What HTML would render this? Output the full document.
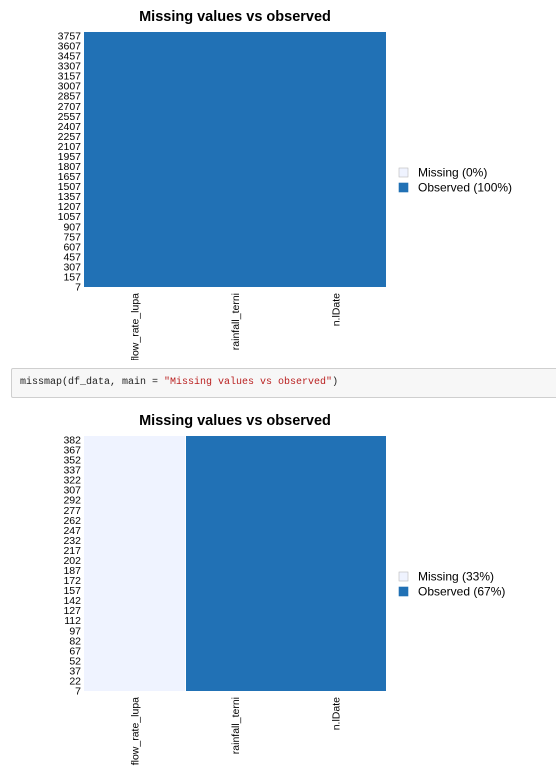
<!DOCTYPE html>
<html><head><meta charset="utf-8">
<style>
body{margin:0;background:#fff;width:556px;height:766px;overflow:hidden;font-family:"Liberation Sans",Arial,sans-serif;}
svg{position:absolute;left:0;}
#code{position:absolute;left:11px;top:368px;width:550px;height:30px;background:#f7f7f7;border:1px solid #cfcfcf;border-radius:2px;box-sizing:border-box;font-family:"Liberation Mono",monospace;font-size:10px;line-height:28px;padding-left:8px;color:#222;}
#code .s{color:#ba2121;}
</style></head><body>
<svg id="c1" style="top:0" width="556" height="360"></svg>
<div id="code">missmap(df_data, main = <span class="s">"Missing values vs observed"</span>)</div>
<svg id="c2" style="top:404px" width="556" height="362"></svg>
<script>
const columns = ["flow_rate_lupa","rainfall_terni","n.lDate"];
const missing1 = [0,0,0];
const missing2 = [1,0,0];
const ticks1 = [3757,3607,3457,3307,3157,3007,2857,2707,2557,2407,2257,2107,1957,1807,1657,1507,1357,1207,1057,907,757,607,457,307,157,7];
const ticks2 = [382,367,352,337,322,307,292,277,262,247,232,217,202,187,172,157,142,127,112,97,82,67,52,37,22,7];
const legend1 = ["Missing (0%)","Observed (100%)"];
const legend2 = ["Missing (33%)","Observed (67%)"];
const NS="http://www.w3.org/2000/svg";
const BLUE="#2171b5", MISS="#eff3ff";
function mk(p,t,a){const e=document.createElementNS(NS,t);for(const k in a)e.setAttribute(k,a[k]);p.appendChild(e);return e;}
function draw(svg,miss,ticks,legend,oy){
  const x0=84,x1=386,y0=32+oy,y1=287+oy,cw=(x1-x0)/columns.length;
  const t=mk(svg,'text',{x:235,y:21+oy,'text-anchor':'middle','font-size':'14.5','font-weight':'bold',fill:'#000'});t.textContent="Missing values vs observed";
  
  
  columns.forEach((c,i)=>{
    const xa=Math.round(x0+i*cw), xb=Math.round(x0+(i+1)*cw);
    const r=mk(svg,'rect',{x:xa,y:y0,width:xb-xa+(i<columns.length-1?1:0),height:y1-y0,fill:miss[i]>0.5?MISS:BLUE,'shape-rendering':'crispEdges'});
    
    
  });
  columns.forEach((c,i)=>{
    if(i>0&&miss[i-1]!==miss[i]){const xa=Math.round(x0+i*cw);mk(svg,'rect',{x:xa,y:y0,width:1,height:y1-y0,fill:'#fff','shape-rendering':'crispEdges'});}
    const cx=x0+(i+0.5)*cw+4;
    const l=mk(svg,'text',{transform:`translate(${cx},${y1+6}) rotate(-90)`,'text-anchor':'end','font-size':'10.5',fill:'#000'});l.textContent=c;
    
    
  });
  const step=(y1-y0-4)/(ticks.length-1);
  ticks.forEach((v,i)=>{
    const l=mk(svg,'text',{x:81,y:y0+4+i*step+3.5,'text-anchor':'end','font-size':'10.5',fill:'#000'});l.textContent=v;
    
    
  });
  legend.forEach((s,i)=>{
    const ly=168+oy+i*15;
    const r=mk(svg,'rect',{x:399,y:ly,width:9,height:9,fill:i?BLUE:MISS,stroke:i?BLUE:'#bbb','stroke-width':0.6});
    
    
    const l=mk(svg,'text',{x:418,y:ly+8.5,'font-size':'12',fill:'#000'});l.textContent=s;
    
    
  });
}
draw(document.getElementById('c1'),missing1,ticks1,legend1,0);
draw(document.getElementById('c2'),missing2,ticks2,legend2,0);
</script>
</body></html>
